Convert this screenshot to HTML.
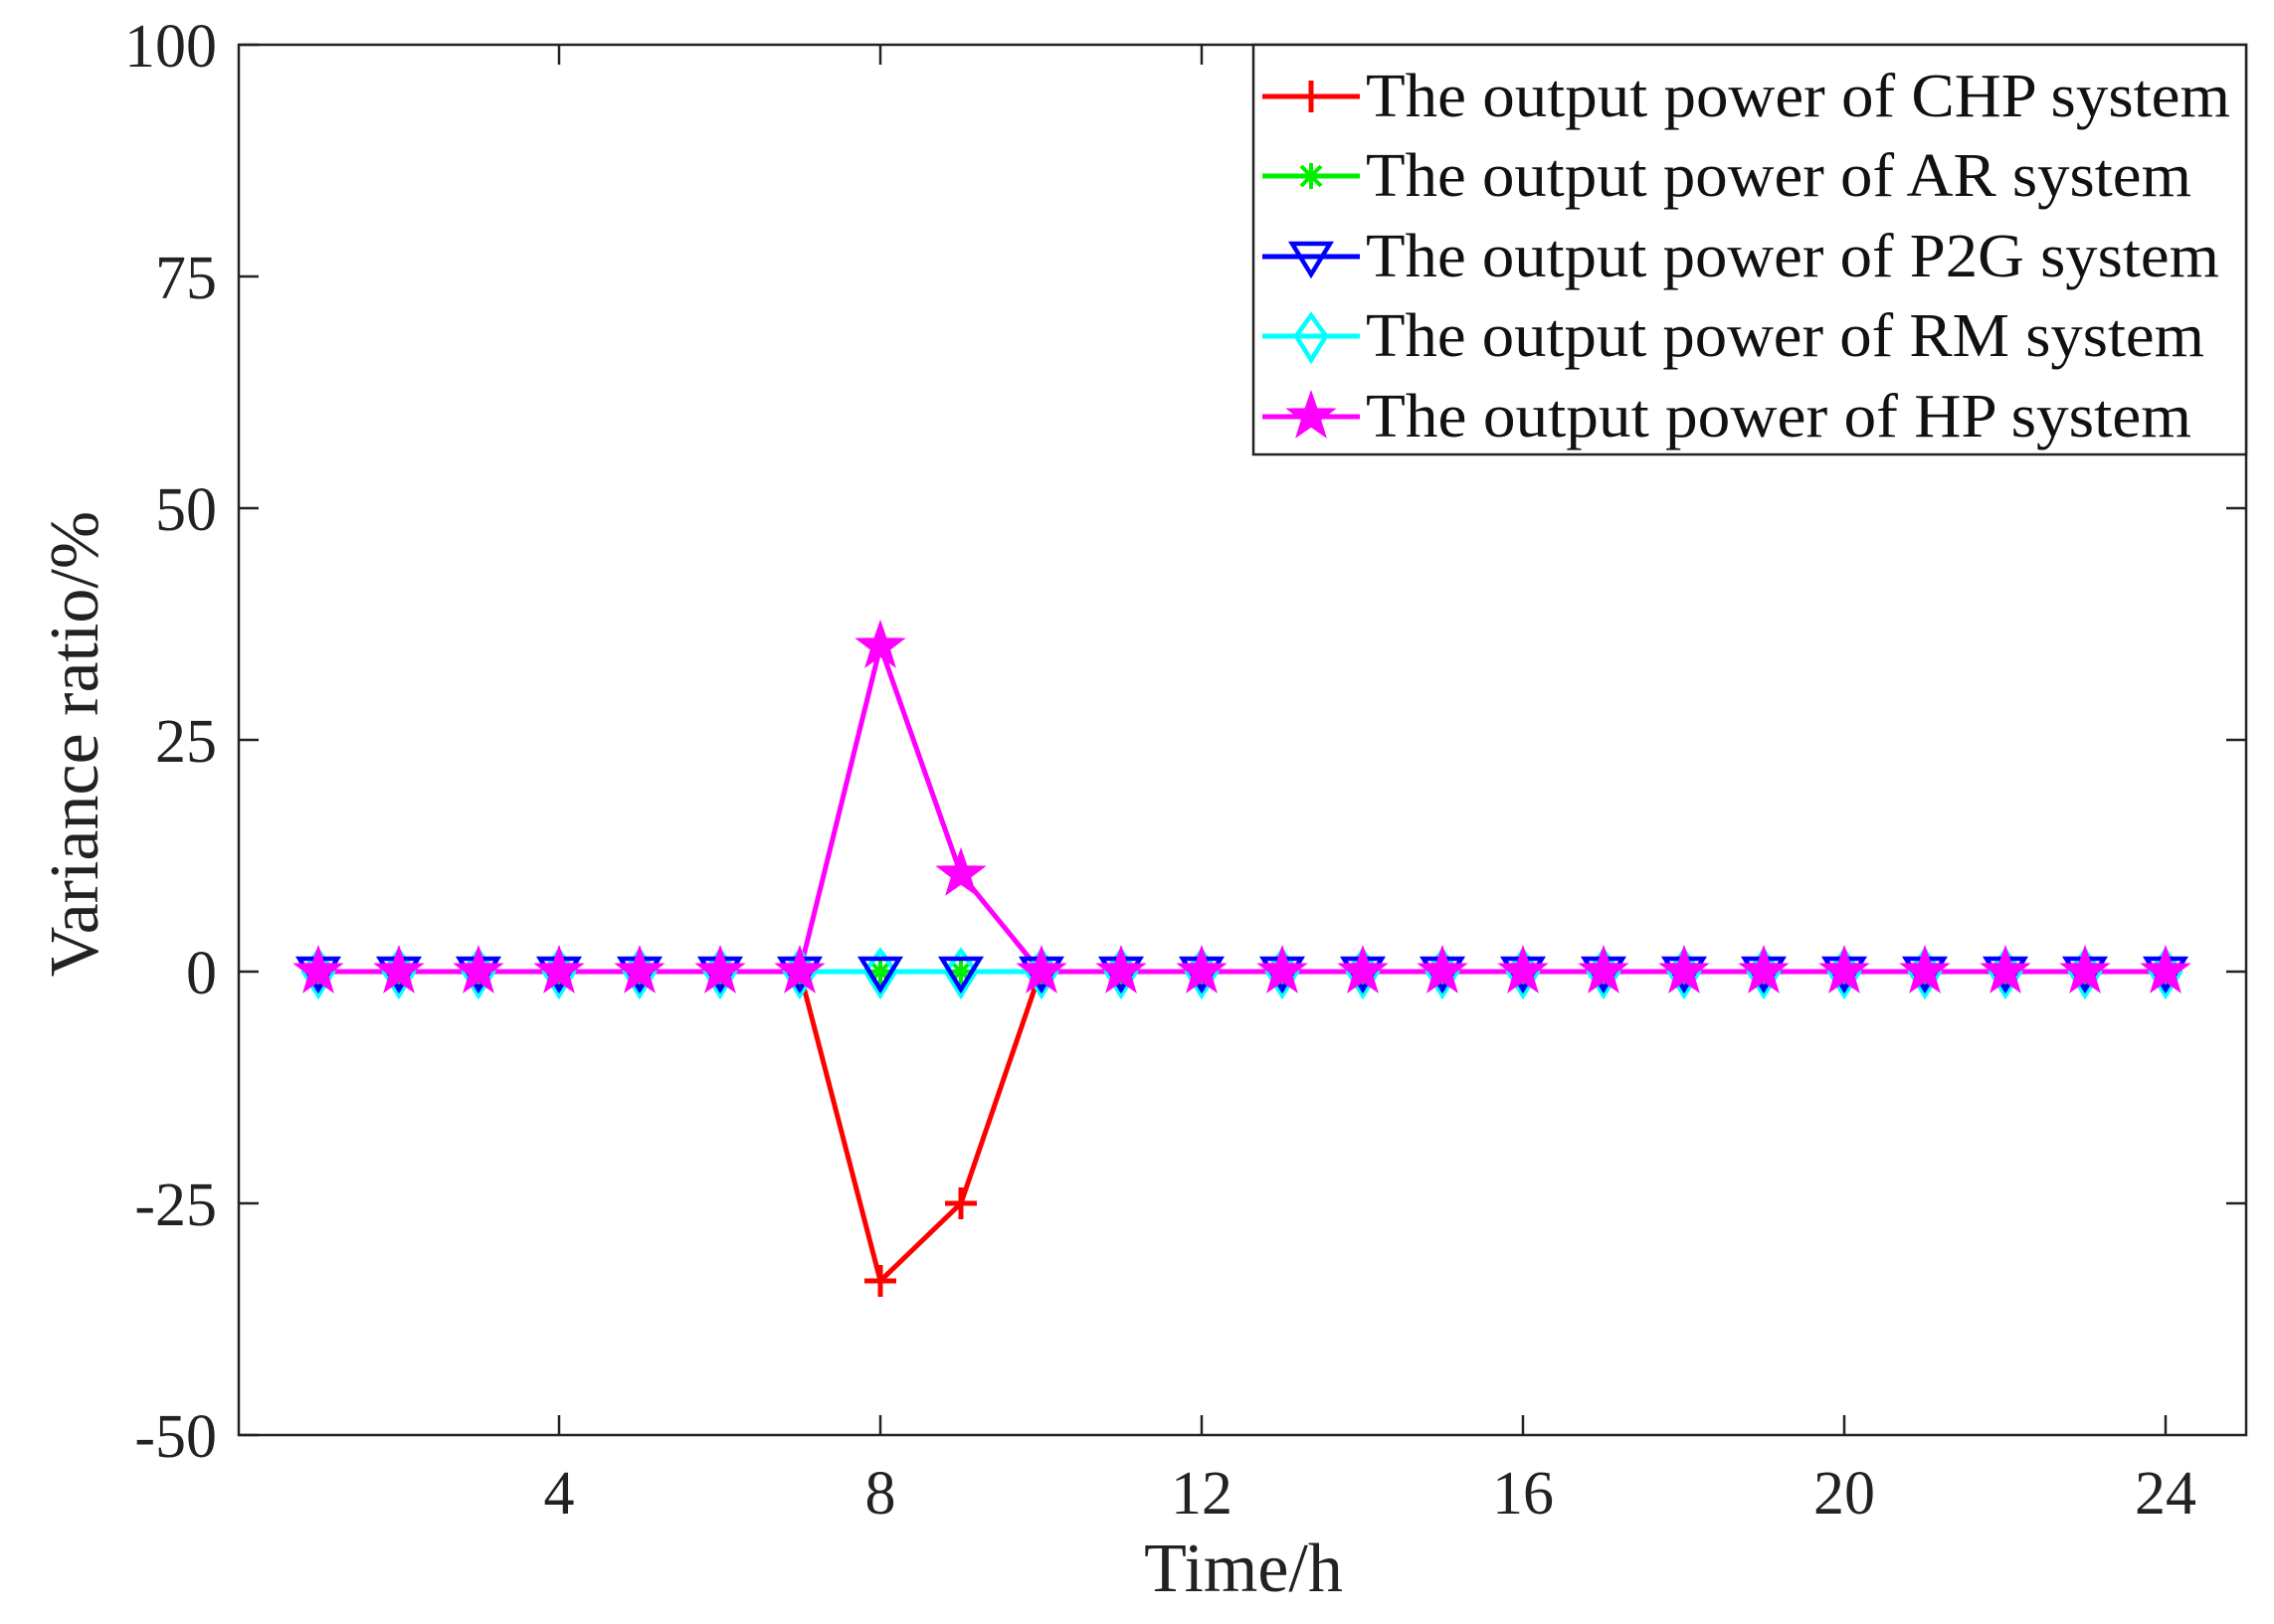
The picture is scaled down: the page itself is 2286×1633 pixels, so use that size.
<!DOCTYPE html>
<html><head><meta charset="utf-8"><style>html,body{margin:0;padding:0;background:#fff}svg{display:block}</style></head>
<body>
<svg width="2286" height="1633" viewBox="0 0 2286 1633" xmlns="http://www.w3.org/2000/svg" font-family="'Liberation Serif', serif">
<defs>
<g id="star"><polygon points="0,-24 5.6,-7.7 22.8,-7.4 9.1,3 14.1,19.4 0,9.5 -14.1,19.4 -9.1,3 -22.8,-7.4 -5.6,-7.7" fill="#ff00ff" stroke="#ff00ff" stroke-width="2"/></g>
<g id="tri"><polygon points="-19,-13 19,-13 0,18" fill="none" stroke="#0000ff" stroke-width="4.5"/></g>
<g id="dia"><polygon points="0,-21 15,0 0,24 -15,0" fill="none" stroke="#00ffff" stroke-width="4.5"/></g>
<g id="plus"><path d="M-16,0H16M0,-16V16" stroke="#ff0000" stroke-width="5"/></g>
<g id="ast"><path d="M-13,0H13M0,-13V13M-10,-10L10,10M-10,10L10,-10" stroke="#00ee00" stroke-width="4"/></g>
<g id="z"><use href="#plus"/><use href="#ast"/><use href="#dia"/><use href="#tri"/><use href="#star"/></g>
<g id="zz"><use href="#ast"/><use href="#dia"/><use href="#tri"/></g>
</defs>
<rect x="240" y="45" width="2018" height="1398" fill="#fff" stroke="#222" stroke-width="2.5"/>
<g stroke="#222" stroke-width="2.5">
<path d="M562,1443v-20M885,1443v-20M1208,1443v-20M1531,1443v-20M1854,1443v-20M2177,1443v-20"/>
<path d="M562,45v20M885,45v20M1208,45v20M1531,45v20M1854,45v20M2177,45v20"/>
<path d="M240,45h20M240,278h20M240,511h20M240,744h20M240,977h20M240,1210h20M240,1443h20"/>
<path d="M2258,278h-20M2258,511h-20M2258,744h-20M2258,977h-20M2258,1210h-20"/>
</g>
<g font-size="62" fill="#222" text-anchor="end">
<text x="218" y="67">100</text><text x="218" y="300">75</text><text x="218" y="533">50</text><text x="218" y="766">25</text><text x="218" y="999">0</text><text x="218" y="1232">-25</text><text x="218" y="1465">-50</text>
</g>
<g font-size="62" fill="#222" text-anchor="middle">
<text x="562" y="1522">4</text><text x="885" y="1522">8</text><text x="1208" y="1522">12</text><text x="1531" y="1522">16</text><text x="1854" y="1522">20</text><text x="2177" y="1522">24</text>
<text x="1250" y="1600" font-size="70">Time/h</text>
<text transform="translate(98,748) rotate(-90)" font-size="70">Variance ratio/%</text>
</g>
<polyline points="320,977 804,977 885,1288 966,1210 1046,977 2177,977" fill="none" stroke="#ff0000" stroke-width="5"/>
<polyline points="320,977 2177,977" fill="none" stroke="#00ffff" stroke-width="5"/>
<polyline points="320,977 804,977 885,650 966,879 1046,977 2177,977" fill="none" stroke="#ff00ff" stroke-width="5"/>
<use href="#z" x="320" y="977"/><use href="#z" x="401" y="977"/><use href="#z" x="481" y="977"/><use href="#z" x="562" y="977"/><use href="#z" x="643" y="977"/><use href="#z" x="724" y="977"/><use href="#z" x="804" y="977"/>
<use href="#zz" x="885" y="977"/><use href="#plus" x="885" y="1288"/><use href="#star" x="885" y="650"/>
<use href="#zz" x="966" y="977"/><use href="#plus" x="966" y="1210"/><use href="#star" x="966" y="879"/>
<use href="#z" x="1047" y="977"/><use href="#z" x="1127" y="977"/><use href="#z" x="1208" y="977"/><use href="#z" x="1289" y="977"/><use href="#z" x="1370" y="977"/><use href="#z" x="1450" y="977"/><use href="#z" x="1531" y="977"/><use href="#z" x="1612" y="977"/><use href="#z" x="1693" y="977"/><use href="#z" x="1773" y="977"/><use href="#z" x="1854" y="977"/><use href="#z" x="1935" y="977"/><use href="#z" x="2016" y="977"/><use href="#z" x="2096" y="977"/><use href="#z" x="2177" y="977"/>
<rect x="1260" y="45" width="998" height="412" fill="#fff" stroke="#222" stroke-width="2.5"/>
<g stroke-width="5">
<line x1="1269" y1="97" x2="1367" y2="97" stroke="#ff0000"/><use href="#plus" x="1318" y="97"/>
<line x1="1269" y1="177" x2="1367" y2="177" stroke="#00ee00"/><use href="#ast" x="1318" y="177"/>
<line x1="1269" y1="258" x2="1367" y2="258" stroke="#0000ff"/><use href="#tri" x="1318" y="258"/>
<line x1="1269" y1="338" x2="1367" y2="338" stroke="#00ffff"/><use href="#dia" x="1318" y="338"/>
<line x1="1269" y1="419" x2="1367" y2="419" stroke="#ff00ff"/><use href="#star" x="1318" y="419"/>
</g>
<g font-size="62" fill="#111">
<text x="1373" y="117" textLength="869" lengthAdjust="spacingAndGlyphs">The output power of CHP system</text>
<text x="1373" y="197" textLength="830" lengthAdjust="spacingAndGlyphs">The output power of AR system</text>
<text x="1373" y="278" textLength="858" lengthAdjust="spacingAndGlyphs">The output power of P2G system</text>
<text x="1373" y="358" textLength="843" lengthAdjust="spacingAndGlyphs">The output power of RM system</text>
<text x="1373" y="439" textLength="830" lengthAdjust="spacingAndGlyphs">The output power of HP system</text>
</g>
</svg>
</body></html>
